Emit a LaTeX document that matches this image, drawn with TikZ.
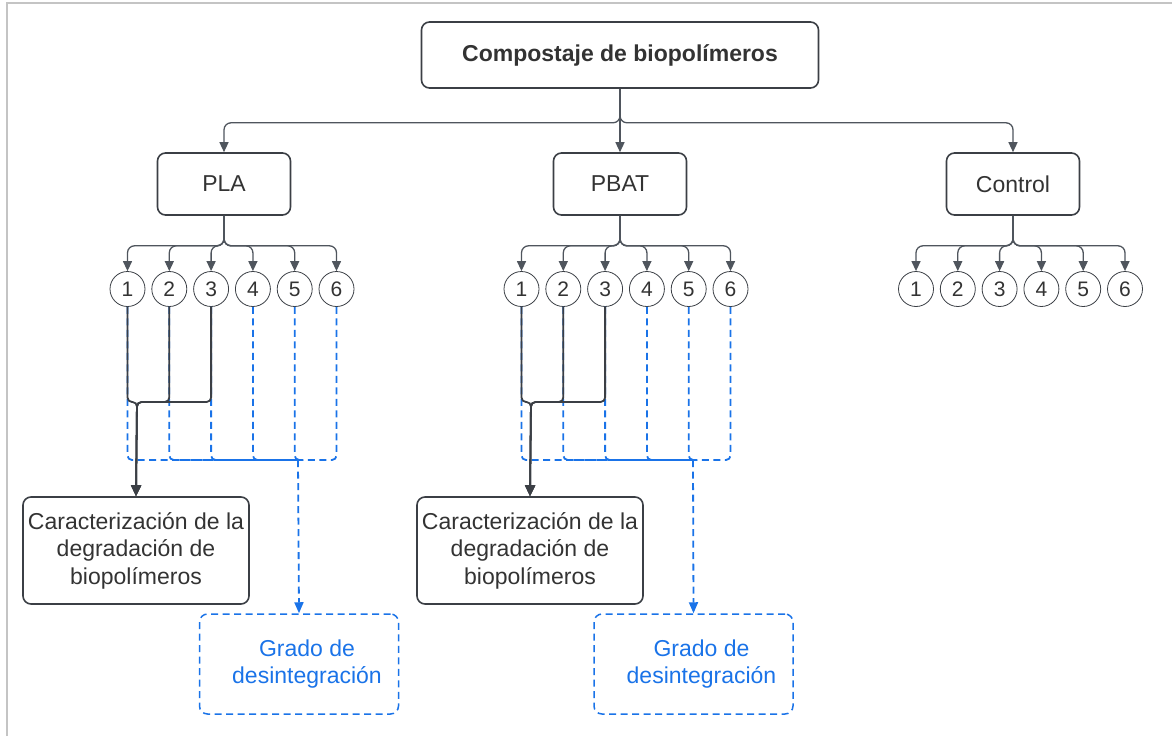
\documentclass[tikz,border=0pt]{standalone}
\usepackage{fontspec}
\setmainfont{Liberation Sans}
\usetikzlibrary{arrows.meta}

\definecolor{linegray}{HTML}{4F555D}
\definecolor{boxgray}{HTML}{3B3F45}
\definecolor{textgray}{HTML}{333333}
\definecolor{dashblue}{HTML}{1A73E8}
\definecolor{framegray}{HTML}{C4C4C4}

\tikzset{
  box/.style={draw=boxgray, line width=1.6pt, rounded corners=8pt, text=textgray,
    font=\fontsize{23}{27.5}\selectfont, align=center, inner sep=2pt},
  bluebox/.style={box, draw=dashblue, text=dashblue, line width=1.5pt, dash pattern=on 7pt off 4.5pt},
  sample/.style={draw=boxgray, line width=0.8pt, circle, minimum size=35pt, inner sep=0pt,
    text=textgray, font=\fontsize{21}{22}\selectfont},
  conn/.style={draw=linegray, line width=1.3pt, rounded corners=7pt, -{Triangle[length=10pt,width=9pt]}},
  solidconn/.style={draw=boxgray, line width=1.8pt, rounded corners=4.5pt, -{Triangle[length=11pt,width=10pt]}},
  bluedash/.style={draw=dashblue, line width=1.8pt, dash pattern=on 7pt off 4.5pt, rounded corners=4.5pt},
  blueconn/.style={bluedash, -{Triangle[length=11pt,width=9pt]}}
}

\begin{document}
\begin{tikzpicture}[x=1pt,y=-1pt]
\useasboundingbox (0,0) rectangle (1172,736);
\draw[framegray, line width=2pt] (7,736) -- (7,3) -- (1172,3);

% top level
\node[box, font=\fontsize{23}{27.5}\selectfont\bfseries, minimum width=397pt, minimum height=66pt] (title) at (620,55) {Compostaje de biopolímeros};
\node[box, minimum width=133pt, minimum height=62pt] (pla) at (224,184) {PLA};
\node[box, minimum width=133pt, minimum height=62pt] (pbat) at (620,184) {PBAT};
\node[box, minimum width=133pt, minimum height=62pt] (control) at (1013,184) {Control};
\foreach \n in {pla,pbat,control}
  \draw[conn] (title.south) -- ++(0,34) -| (\n.north);

% samples
\foreach \i in {1,...,6} {
  \node[sample] (pla\i) at ({127.5+41.8*(\i-1)},289) {\i};
  \node[sample] (pbat\i) at ({521.5+41.8*(\i-1)},289) {\i};
  \node[sample] (control\i) at ({916+41.8*(\i-1)},289) {\i};
  \draw[conn] (pla.south) -- ++(0,30) -| (pla\i.north);
  \draw[conn] (pbat.south) -- ++(0,30) -| (pbat\i.north);
  \draw[conn] (control.south) -- ++(0,30) -| (control\i.north);
}

% results
\node[box, minimum width=226pt, minimum height=107pt] (placar) at (136,550.5) {Caracterización de la\\degradación de\\biopolímeros};
\node[bluebox, minimum width=199pt, minimum height=100pt] (plagrado) at (299,664) {\hspace*{16pt}Grado de\\\hspace*{16pt}desintegración};
\node[box, minimum width=226pt, minimum height=107pt] (pbatcar) at (530,550.5) {Caracterización de la\\degradación de\\biopolímeros};
\node[bluebox, minimum width=199pt, minimum height=100pt] (pbatgrado) at (693.5,664) {\hspace*{16pt}Grado de\\\hspace*{16pt}desintegración};

\coordinate (plablue) at (298,460);
\coordinate (pbatblue) at (693,460);
\coordinate (plajoin) at (137,402);
\coordinate (pbatjoin) at (531,402);

\foreach \i in {1,...,6} {
  \draw[bluedash] (pla\i.south) |- (plablue);
  \draw[bluedash] (pbat\i.south) |- (pbatblue);
}
\draw[blueconn] (plablue) -- (plagrado.north);
\draw[blueconn] (pbatblue) -- (pbatgrado.north);
\foreach \i in {1,2,3} {
  \draw[solidconn] (pla\i.south) |- (plajoin) -- (placar.north);
  \draw[solidconn] (pbat\i.south) |- (pbatjoin) -- (pbatcar.north);
}
\end{tikzpicture}
\end{document}
